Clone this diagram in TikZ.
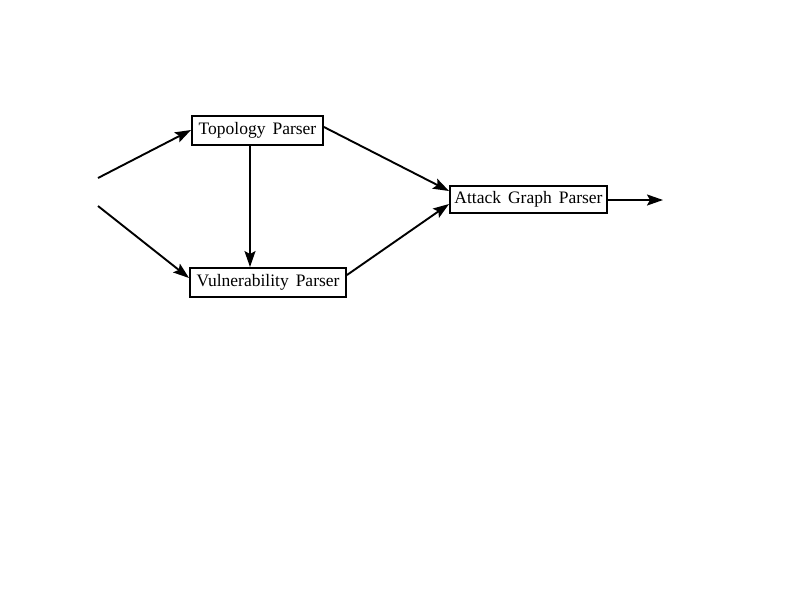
\documentclass[tikz,border=0pt]{standalone}
\usepackage{fontspec}
\setmainfont[WordSpace={1.6}]{Liberation Serif}
\usetikzlibrary{arrows.meta}
\newcommand{\boxlabel}[1]{\raisebox{-2pt}{#1}}
\begin{document}
\begin{tikzpicture}[x=1pt,y=-1pt,
  parser/.style={draw, line width=1.9pt, inner sep=0pt, font=\fontsize{17.5}{20}\selectfont, anchor=center},
  flow/.style={line width=1.9pt, -{Stealth[length=16pt,width=11pt,inset=3pt]}}]
  \useasboundingbox (0,0) rectangle (800,600);
  \node[parser, minimum width=131pt, minimum height=29pt] (topo) at (257.5,130.5) {\boxlabel{Topology Parser}};
  \node[parser, minimum width=156pt, minimum height=29pt] (vuln) at (268,282.5) {\boxlabel{Vulnerability Parser}};
  \node[parser, minimum width=157pt, minimum height=27pt] (agp) at (528.5,199.5) {\boxlabel{Attack Graph Parser}};
  \coordinate (inA) at (98,178);
  \coordinate (inB) at (98,206);
  \coordinate (out) at (663,200);
  \draw[flow] (inA) -- (topo.west |- 0,130);
  \draw[flow] (inB) -- (vuln.west |- 0,278);
  \draw[flow] (topo.south -| 250,0) -- (vuln.north -| 250,0);
  \draw[flow] (topo.east |- 0,127) -- (agp.west |- 0,191);
  \draw[flow] (vuln.east |- 0,275) -- (agp.west |- 0,204);
  \draw[flow] (agp.east |- out) -- (out);
\end{tikzpicture}
\end{document}
